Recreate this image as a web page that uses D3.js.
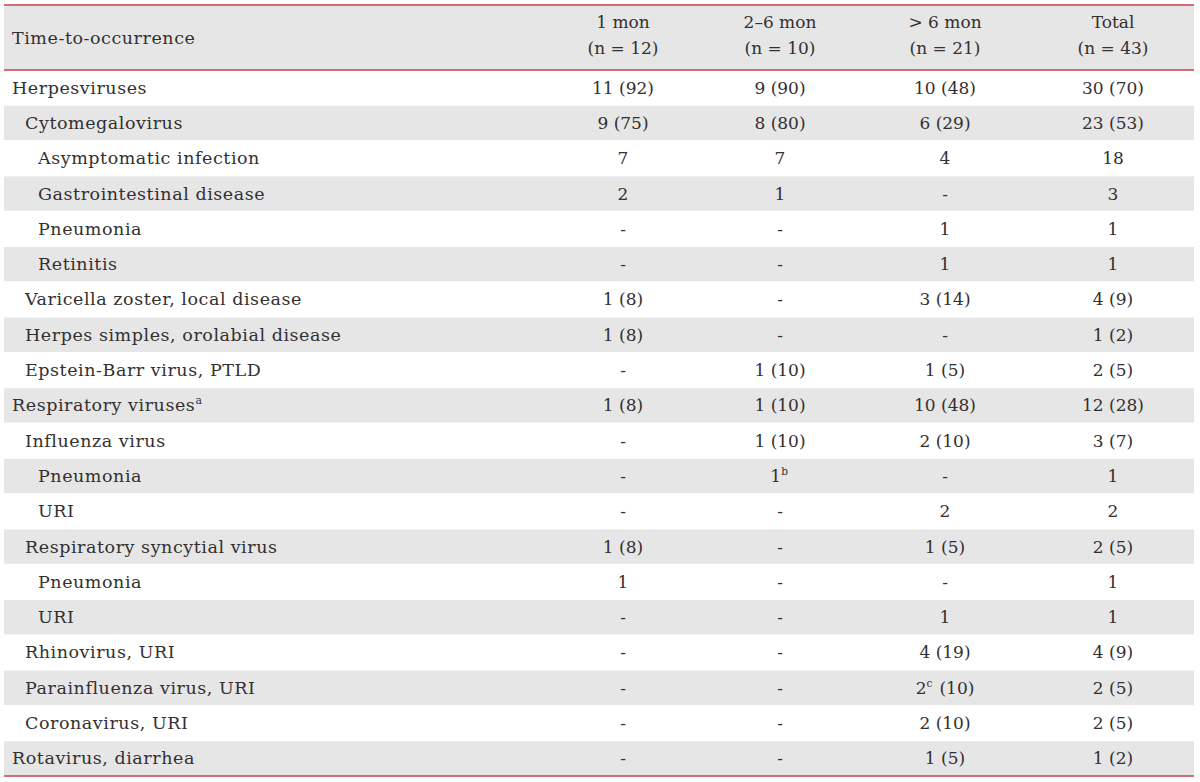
<!DOCTYPE html>
<html>
<head>
<meta charset="utf-8">
<script src="https://cdn.jsdelivr.net/npm/d3@7"></script>
<style>
  html, body { margin: 0; padding: 0; background: #fff; }
  text { font-family: "DejaVu Serif", "Liberation Serif", serif; fill: #333031; letter-spacing: 0.55px; }
  text.num { letter-spacing: 0; }
</style>
</head>
<body>
<div id="d3container"></div>
<script>
// Table content
const headerLabel = "Time-to-occurrence";
const columnHeads = ["1 mon", "2–6 mon", "> 6 mon", "Total"];
const columnNs = ["(n = 12)", "(n = 10)", "(n = 21)", "(n = 43)"];

const rowLabels = [
  "Herpesviruses", "Cytomegalovirus", "Asymptomatic infection", "Gastrointestinal disease",
  "Pneumonia", "Retinitis", "Varicella zoster, local disease", "Herpes simples, orolabial disease",
  "Epstein-Barr virus, PTLD", "Respiratory viruses^a", "Influenza virus", "Pneumonia", "URI",
  "Respiratory syncytial virus", "Pneumonia", "URI", "Rhinovirus, URI", "Parainfluenza virus, URI",
  "Coronavirus, URI", "Rotavirus, diarrhea"
];
const rowLevels = [0, 1, 2, 2, 2, 2, 1, 1, 1, 0, 1, 2, 2, 1, 2, 2, 1, 1, 1, 0];

const oneMon = ["11 (92)", "9 (75)", "7", "2", "-", "-", "1 (8)", "1 (8)", "-", "1 (8)",
  "-", "-", "-", "1 (8)", "1", "-", "-", "-", "-", "-"];
const twoToSixMon = ["9 (90)", "8 (80)", "7", "1", "-", "-", "-", "-", "1 (10)", "1 (10)",
  "1 (10)", "1^b", "-", "-", "-", "-", "-", "-", "-", "-"];
const overSixMon = ["10 (48)", "6 (29)", "4", "-", "1", "1", "3 (14)", "-", "1 (5)", "10 (48)",
  "2 (10)", "-", "2", "1 (5)", "-", "1", "4 (19)", "2^c (10)", "2 (10)", "1 (5)"];
const totals = ["30 (70)", "23 (53)", "18", "3", "1", "1", "4 (9)", "1 (2)", "2 (5)", "12 (28)",
  "3 (7)", "1", "2", "2 (5)", "1", "1", "4 (9)", "2 (5)", "2 (5)", "1 (2)"];

const columns = [oneMon, twoToSixMon, overSixMon, totals];

const width = 1200;
const height = 782;
const tableLeft = 4, tableRight = 1194;
const headTop = 5, headBottom = 70, tableBottom = 776;
const red = "#c8414b";
const gray = "#e6e6e6";
const fontSize = 17.5;
const numSize = 17;

const svg = d3.select("#d3container")
  .append("svg")
  .attr("width", width)
  .attr("height", height);

const y = d3.scaleBand()
  .domain(d3.range(rowLabels.length))
  .range([headBottom, tableBottom]);

const x = d3.scaleOrdinal()
  .domain(d3.range(columns.length))
  .range([623, 780, 945, 1113]);

const indent = d3.scaleOrdinal().domain([0, 1, 2]).range([12, 25, 38]);

// write text with "^x" superscript markup
function richText(sel, str, size) {
  const parts = str.split(/\^(\w)/);
  parts.forEach((p, i) => {
    if (!p) return;
    if (i % 2 === 1) {
      sel.append("tspan").attr("font-size", size * 0.62).attr("dy", -7).text(p);
      sel.append("tspan").attr("dy", 7).text("\u200a");
    } else {
      sel.append("tspan").text(p);
    }
  });
}

// Header background
svg.append("rect")
  .attr("x", tableLeft).attr("y", headTop)
  .attr("width", tableRight - tableLeft).attr("height", headBottom - headTop)
  .attr("fill", gray);

// Row stripes
svg.append("g")
  .selectAll("rect")
  .data(d3.range(rowLabels.length).filter(i => i % 2 === 1))
  .join("rect")
  .attr("x", tableLeft)
  .attr("y", d => y(d) + 0.5)
  .attr("width", tableRight - tableLeft)
  .attr("height", y.bandwidth() - 1)
  .attr("fill", gray);

// Rules
[headTop, headBottom, tableBottom].forEach(v => {
  svg.append("line")
    .attr("x1", tableLeft).attr("x2", tableRight)
    .attr("y1", v).attr("y2", v)
    .attr("stroke", red).attr("stroke-width", 1.6);
});

// Header text
svg.append("text")
  .attr("x", 12).attr("y", 44)
  .attr("font-size", fontSize)
  .text(headerLabel);

const head = svg.append("g").selectAll("g")
  .data(d3.range(columns.length))
  .join("g");
head.append("text")
  .attr("class", "num")
  .attr("x", d => x(d)).attr("y", 28)
  .attr("text-anchor", "middle")
  .attr("font-size", numSize)
  .text(d => columnHeads[d]);
head.append("text")
  .attr("class", "num")
  .attr("x", d => x(d)).attr("y", 54)
  .attr("text-anchor", "middle")
  .attr("font-size", numSize)
  .text(d => columnNs[d]);

// Row labels
svg.append("g")
  .selectAll("text")
  .data(d3.range(rowLabels.length))
  .join("text")
  .attr("x", d => indent(rowLevels[d]))
  .attr("y", d => y(d) + y.bandwidth() / 2 + 6)
  .attr("font-size", fontSize)
  .each(function (d) { richText(d3.select(this), rowLabels[d], fontSize); });

// Cells
columns.forEach((col, c) => {
  svg.append("g")
    .selectAll("text")
    .data(col)
    .join("text")
    .attr("class", "num")
    .attr("x", x(c))
    .attr("y", (d, i) => y(i) + y.bandwidth() / 2 + 6)
    .attr("text-anchor", "middle")
    .attr("font-size", numSize)
    .each(function (d) { richText(d3.select(this), d, numSize); });
});
</script>
</body>
</html>
